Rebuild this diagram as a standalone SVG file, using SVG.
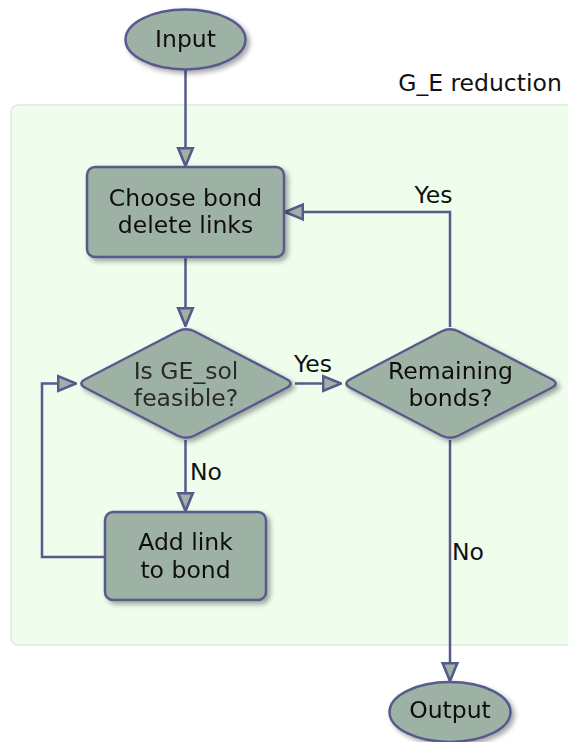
<svg xmlns="http://www.w3.org/2000/svg" width="568" height="742" viewBox="0 0 568 742">
  <style>
    .node { fill: #9db1a5; stroke: #575a8c; stroke-width: 2.5; }
    .edge { fill: none; stroke: #575a8c; stroke-width: 2.5; }
    .label { font-family: "DejaVu Sans", Verdana, sans-serif; font-size: 23.5px; fill: #111; text-anchor: middle; }
    .cluster { fill: #eefdec; stroke: #dfe6df; stroke-width: 1.5; }
  </style>
  <defs>
    <filter id="shadow" x="-20%" y="-20%" width="150%" height="160%">
      <feDropShadow dx="3" dy="3" stdDeviation="2.5" flood-color="#000" flood-opacity="0.35"/>
    </filter>
    <marker id="arrow" markerUnits="userSpaceOnUse" markerWidth="20" markerHeight="20" viewBox="-1 -9 19 18" refX="17" refY="0" orient="auto">
      <path d="M0,-7 L17,0 L0,7 Z" fill="#9db1a5" stroke="#575a8c" stroke-width="2.5" stroke-linejoin="miter"/>
    </marker>
  </defs>

  <rect width="568" height="742" fill="#ffffff"/>

  <!-- cluster: G_E reduction -->
  <g id="cluster_ge">
    <rect class="cluster" x="11" y="105" width="570" height="540" rx="7"/>
    <text class="label" x="480" y="91">G_E reduction</text>
  </g>

  <!-- connectors -->
  <g id="edges">
    <path class="edge" d="M185.5,70 V166" marker-end="url(#arrow)"/>
    <path class="edge" d="M185.5,257 V326" marker-end="url(#arrow)"/>
    <path class="edge" d="M295,383.5 H341" marker-end="url(#arrow)"/>
    <path class="edge" d="M450,327 V212 H285" marker-end="url(#arrow)"/>
    <path class="edge" d="M185.5,440 V511" marker-end="url(#arrow)"/>
    <path class="edge" d="M105,557 H42 V383.5 H76" marker-end="url(#arrow)"/>
    <path class="edge" d="M450,440 V681" marker-end="url(#arrow)"/>
    <text class="label" x="433.5" y="203">Yes</text>
    <text class="label" x="313" y="372">Yes</text>
    <text class="label" x="206" y="480">No</text>
    <text class="label" x="468" y="560">No</text>
  </g>

  <!-- nodes -->
  <g id="input" filter="url(#shadow)">
    <ellipse class="node" cx="185.5" cy="39.5" rx="60" ry="30"/>
    <text class="label" x="185.5" y="47">Input</text>
  </g>

  <g id="choose_bond" filter="url(#shadow)">
    <rect class="node" x="87" y="167" width="197" height="90" rx="8"/>
    <text class="label" x="185.5" y="206">Choose bond</text>
    <text class="label" x="185.5" y="233">delete links</text>
  </g>

  <g id="is_feasible" filter="url(#shadow)">
    <path class="node" d="M85.7,379 L177.3,331.5 Q186,327 194.7,331.5 L286.3,379 Q295,383.5 286.3,388 L194.7,435.5 Q186,440 177.3,435.5 L85.7,388 Q77,383.5 85.7,379 Z"/>
    <text class="label" x="186" y="379" style="fill:#2a2a2a">Is GE_sol</text>
    <text class="label" x="186" y="406" style="fill:#2a2a2a">feasible?</text>
  </g>

  <g id="remaining_bonds" filter="url(#shadow)">
    <path class="node" d="M350.7,379 L441.3,331.5 Q450,327 458.7,331.5 L551.3,379 Q560,383.5 551.3,388 L458.7,435.5 Q450,440 441.3,435.5 L350.7,388 Q342,383.5 350.7,379 Z"/>
    <text class="label" x="450.5" y="378.5">Remaining</text>
    <text class="label" x="450.5" y="405.5">bonds?</text>
  </g>

  <g id="add_link" filter="url(#shadow)">
    <rect class="node" x="105" y="512" width="161" height="88" rx="8"/>
    <text class="label" x="185.5" y="550">Add link</text>
    <text class="label" x="185.5" y="577.5">to bond</text>
  </g>

  <g id="output" filter="url(#shadow)">
    <ellipse class="node" cx="450" cy="712" rx="60.5" ry="30"/>
    <text class="label" x="450" y="717.5">Output</text>
  </g>
</svg>
